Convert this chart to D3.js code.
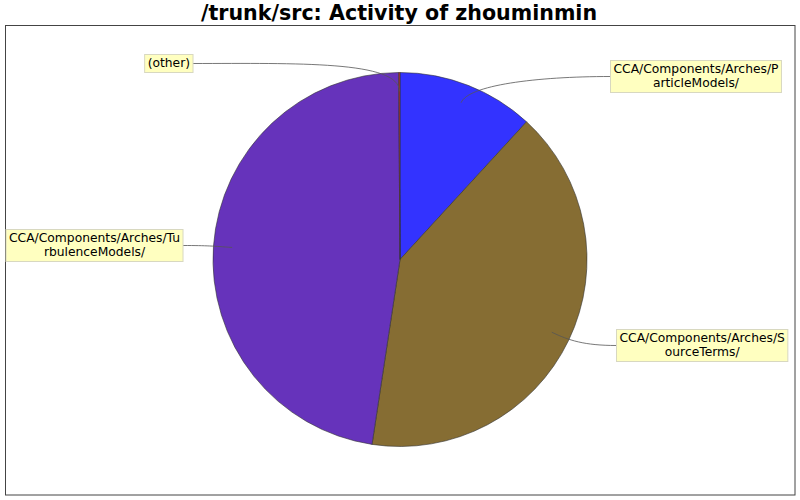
<!DOCTYPE html>
<html><head><meta charset="utf-8">
<script src="https://cdn.jsdelivr.net/npm/d3@7"></script>
<style>body{margin:0;background:#fff}</style>
</head><body>
<svg id="c" width="800" height="500"></svg>
<script>
const title = "/trunk/src: Activity of zhouminmin";
const categories = ["CCA/Components/Arches/ParticleModels/", "CCA/Components/Arches/SourceTerms/", "CCA/Components/Arches/TurbulenceModels/", "(other)"];
const labelLines = [["CCA/Components/Arches/P","articleModels/"],["CCA/Components/Arches/S","ourceTerms/"],["CCA/Components/Arches/Tu","rbulenceModels/"],["(other)"]];
const values = [11.83, 40.56, 47.5, 0.11];
const colors = ["#3333ff", "#866d33", "#6633bb", "#cc3333"];

const svg = d3.select("#c");
svg.append("text").attr("x",399).attr("y",20).attr("text-anchor","middle")
  .attr("font-family","DejaVu Sans").attr("font-weight","bold").attr("font-size",20.6).text(title);
svg.append("rect").attr("x",5.5).attr("y",25.5).attr("width",789.5).attr("height",469.5)
  .attr("fill","none").attr("stroke","#444").attr("stroke-width",1);

const cx=400, cy=259.5, R=187;
const pie = d3.pie().sort(null).value(d=>d)(values);
const arc = d3.arc().innerRadius(0).outerRadius(R);
const g = svg.append("g").attr("transform",`translate(${cx},${cy})`);
g.selectAll("path").data(pie).join("path").attr("d",arc)
  .attr("fill",(d,i)=>colors[i]).attr("stroke","#333").attr("stroke-width",0.6);

const labelPos = [
  {side:"right", x:610.5, y:76.5},
  {side:"right", x:616.5, y:345.5},
  {side:"left", x:183, y:245.5},
  {side:"left", x:193, y:63.5}
];
const font = "DejaVu Sans", fs = 12.3;
const lg = svg.append("g");
pie.forEach((d,i)=>{
  const lp = labelPos[i];
  const a = (d.startAngle+d.endAngle)/2;
  const r0 = R*0.9;
  const sx = cx + r0*Math.sin(a), sy = cy - r0*Math.cos(a);
  const c1x = cx + R*Math.sin(a), c1y = cy - R*Math.cos(a) - (i===3?12:0);
  const c2x = (sx + lp.x)/2, c2y = lp.y;
  lg.append("path").attr("d",`M${sx},${sy} C${c1x},${c1y} ${c2x},${c2y} ${lp.x},${lp.y}`)
    .attr("fill","none").attr("stroke","#555").attr("stroke-width",0.8);
});
pie.forEach((d,i)=>{
  const lp = labelPos[i];
  const lines = labelLines[i];
  const t = lg.append("text").attr("font-family",font).attr("font-size",fs).attr("text-anchor","middle");
  lines.forEach((l,k)=>t.append("tspan").attr("x",0).attr("dy",k===0?0:14).text(l));
  let w = 0; t.selectAll("tspan").each(function(){w=Math.max(w,this.getComputedTextLength());});
  const bw = w+6, bh = lines.length*14+4;
  const bx = lp.side==="right" ? lp.x : lp.x - bw;
  const by = lp.y - bh/2;
  lg.insert("rect","text").attr("x",bx).attr("y",by).attr("width",bw).attr("height",bh)
    .attr("fill","#ffffc0").attr("stroke","#d8d8c0").attr("stroke-width",1);
  t.attr("transform",`translate(${bx+bw/2},${by+12.5})`);
});
</script>
</body></html>
